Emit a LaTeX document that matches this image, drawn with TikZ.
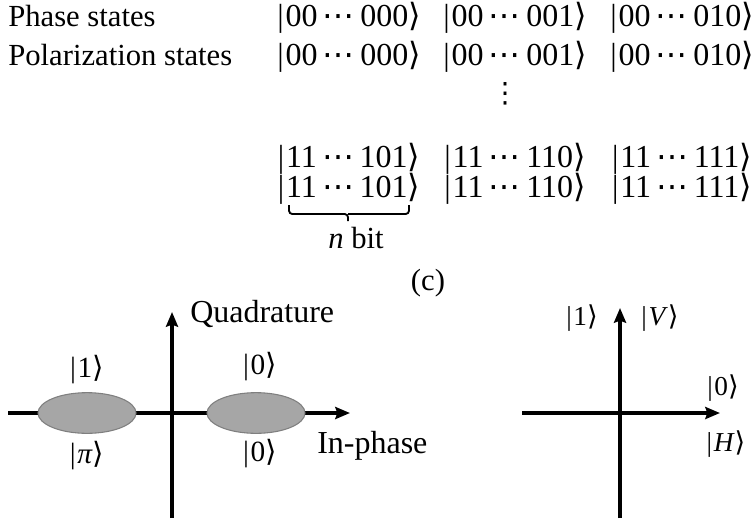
\documentclass[tikz,border=0pt]{standalone}
\usepackage{fontspec}
\setmainfont{Liberation Serif}
\newfontfamily\symf{DejaVu Sans}
\newcommand{\myket}[1]{{|}\kern0.06em#1{\symf ⟩}}
\newcommand{\mydots}{\,{\symf ⋯}\,}
\usetikzlibrary{arrows.meta,shapes.geometric}
\definecolor{blobfill}{HTML}{A6A6A6}
\definecolor{blobline}{HTML}{7F7F7F}
\begin{document}
\begin{tikzpicture}[x=0.75pt,y=-0.75pt,
  txt/.style={inner sep=0pt, font=\fontsize{23}{27}\selectfont, anchor=base west},
  ketrow/.style={inner sep=0pt, font=\fontsize{24}{28}\selectfont, anchor=base},
  capt/.style={inner sep=0pt, font=\fontsize{23}{27}\selectfont, anchor=base},
  axlbl/.style={inner sep=0pt, font=\fontsize{24}{28}\selectfont, anchor=base west},
  ketL/.style={inner sep=0pt, font=\fontsize{22}{26}\selectfont},
  ketR/.style={inner sep=0pt, font=\fontsize{20.5}{24}\selectfont},
  axis/.style={line width=3pt, -{Stealth[length=11pt,width=9pt,inset=1.5pt]}},
  blob/.style={ellipse, inner sep=0pt, fill=blobfill, draw=blobline, line width=0.8pt,
               minimum width=73.5pt, minimum height=30.5pt},
  bracestyle/.style={line width=1.4pt, rounded corners=2.5pt}
]
\useasboundingbox (0,0) rectangle (755,518);

% ---- (c) table of states ----
\node[txt] (ph) at (8,26) {Phase states};
\node[txt] (po) at (8,65) {Polarization states};

\node[ketrow] (a1) at (349,26) {\myket{00\mydots000}};
\node[ketrow] (a2) at (515,26) {\myket{00\mydots001}};
\node[ketrow] (a3) at (682,26) {\myket{00\mydots010}};
\node[ketrow] (b1) at (349,65) {\myket{00\mydots000}};
\node[ketrow] (b2) at (515,65) {\myket{00\mydots001}};
\node[ketrow] (b3) at (682,65) {\myket{00\mydots010}};

\node[inner sep=0pt, font=\fontsize{21}{25}\selectfont\symf] (vd) at (505,94) {⋮};

\node[ketrow] (c1) at (349,167) {\myket{11\mydots101}};
\node[ketrow] (c2) at (515,167) {\myket{11\mydots110}};
\node[ketrow] (c3) at (682,167) {\myket{11\mydots111}};
\node[ketrow] (d1) at (349,197) {\myket{11\mydots101}};
\node[ketrow] (d2) at (515,197) {\myket{11\mydots110}};
\node[ketrow] (d3) at (682,197) {\myket{11\mydots111}};

% brace under the n bits
\coordinate (bl) at (289,205);
\coordinate (br) at (409,205);
\coordinate (bm) at (348,214);
\coordinate (bt) at (348,221);
\draw[bracestyle] (bl) |- (bm) -- (bt);
\draw[bracestyle] (br) |- (bm);
\node[capt] (nb) at (356,248) {\textit{n} bit};
\node[capt] (cap) at (428,290) {(c)};

% ---- phase diagram ----
\coordinate (pL) at (8,413);
\coordinate (pR) at (350,413);
\coordinate (pB) at (172,518);
\coordinate (pT) at (172,312);
\draw[axis] (pL) -- (pR);
\draw[axis] (pB) -- (pT);
\node[blob] (e1) at (87,413) {};
\node[blob] (e2) at (256,413) {};
\node[ketL] (k1) at (87,370) {\myket{1}};
\node[ketL] (kpi) at (87,456) {\myket{\textit{π}}};
\node[ketL] (k0a) at (260,367) {\myket{0}};
\node[ketL] (k0b) at (260,454) {\myket{0}};
\node[axlbl] (quad) at (190,322) {Quadrature};
\node[axlbl] (inph) at (317,453) {In-phase};

% ---- polarization diagram ----
\coordinate (qL) at (522,413);
\coordinate (qR) at (720,413);
\coordinate (qB) at (620,518);
\coordinate (qT) at (620,308);
\draw[axis] (qL) -- (qR);
\draw[axis] (qB) -- (qT);
\node[ketR] (r1) at (582,318) {\myket{1}};
\node[ketR] (rV) at (660,318) {\myket{\textit{V}}};
\node[ketR] (r0) at (723,388) {\myket{0}};
\node[ketR] (rH) at (726,444) {\myket{\textit{H}}};
\end{tikzpicture}
\end{document}
